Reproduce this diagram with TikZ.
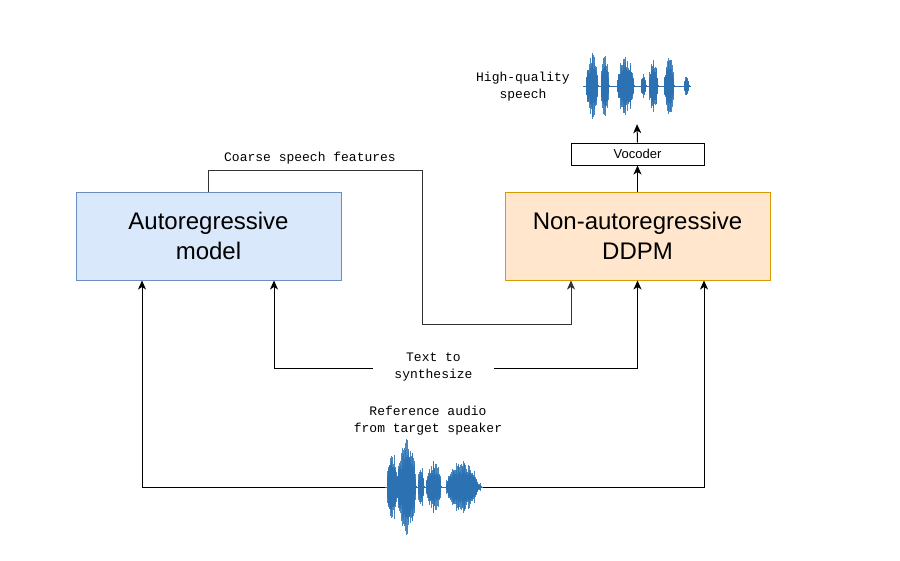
\documentclass[tikz,border=0pt]{standalone}
\usepackage{fontspec}
\setmainfont{Liberation Sans}
\setmonofont{Liberation Mono}
\usetikzlibrary{arrows.meta}
\definecolor{arfill}{HTML}{DAE8FC}
\definecolor{ardraw}{HTML}{6C8EBF}
\definecolor{nafill}{HTML}{FFE6CC}
\definecolor{nadraw}{HTML}{D79B00}
\definecolor{wave}{RGB}{44,114,178}
\definecolor{darkline}{HTML}{333333}
\tikzset{
  model/.style={draw, line width=1pt, minimum width=265pt, minimum height=88pt,
    align=center, font=\fontsize{24}{30}\selectfont},
  smallbox/.style={draw, line width=1pt, fill=white, minimum width=133pt, minimum height=22pt,
    font=\fontsize{13}{16}\selectfont, inner sep=0pt},
  lbl/.style={font=\ttfamily\fontsize{13}{17}\selectfont, align=center, inner sep=0pt},
  conn/.style={line width=1pt, -{Stealth[length=9pt,width=8pt,inset=2.5pt]}},
  wavbox/.style={inner sep=0pt, draw=none},
}
\newcommand{\drawwave}[3]{% center y, list of s/e/a
  \foreach \s/\e/\a in {#2}{
    \pgfmathtruncatemacro\nn{max(2,(\e-\s)/0.4)}
    \foreach \i in {0,...,\nn}{
      \pgfmathsetmacro\xx{\s+\i*(\e-\s)/\nn}
      \pgfmathsetmacro\hh{\a*(0.35+0.65*rnd)*sqrt(sin(180*\i/\nn))+0.6}
      \draw[wave, line width=0.9pt, opacity=0.85] (\xx,#1-\hh) -- (\xx,#1+\hh);
      \pgfmathsetmacro\hc{0.6*\a*(0.5+0.5*rnd)*sqrt(sin(180*\i/\nn))+0.6}
      \draw[wave, line width=0.9pt] (\xx,#1-\hc) -- (\xx,#1+\hc);
    }
  }
}
\begin{document}
\begin{tikzpicture}[x=1pt,y=-1pt]
\useasboundingbox (0,0) rectangle (900,560);
\pgfmathsetseed{7}

% boxes
\node[model, fill=arfill, draw=ardraw] (ar) at (208.5,236) {Autoregressive\\model};
\node[model, fill=nafill, draw=nadraw] (na) at (637.5,236) {Non-autoregressive\\DDPM};
\node[smallbox] (voc) at (637.5,154) {Vocoder};

% top waveform
\node[wavbox, minimum width=108pt, minimum height=74pt] (wtop) at (637,87) {};
\draw[wave, line width=0.8pt] (583,86) -- (691,86);
\drawwave{86}{586/598/33, 601/609/34, 617/634/31, 641/646/13, 649/658/27, 664/674/29, 684/689/10}{}
\node[lbl] (hq) at (523,86.5) {High-quality\\speech};

% bottom waveform
\node[wavbox, minimum width=98pt, minimum height=104pt] (wref) at (434,487) {};
\draw[wave, line width=0.8pt] (385,487) -- (483,487);
\drawwave{487}{387/397/38, 396/416/50, 418/424/20, 426/441/26, 446/478/26, 478/481/4}{}
\node[lbl] (refl) at (428,420.5) {Reference audio\\from target speaker};

% text to synthesize
\node[lbl, minimum width=121pt, minimum height=30pt] (txt) at (433.5,367.5) {Text to\\synthesize};

% coarse label
\node[lbl] (cl) at (310,158) {Coarse speech features};

% connectors
\draw[conn] (voc.north) -- (wtop.south);
\draw[conn] (na.north) -- (voc.south);
\draw[conn, darkline] (ar.north) -- ++(0,-21) -| (422,324) -| ([xshift=-66.5pt]na.south);
\draw[conn] (txt.west |- 0,368) -| ([xshift=65.5pt]ar.south);
\draw[conn] (txt.east |- 0,368) -| (na.south);
\draw[conn] (wref.west) -| ([xshift=-66.5pt]ar.south);
\draw[conn] (wref.east) -| ([xshift=66.5pt]na.south);
\end{tikzpicture}
\end{document}
